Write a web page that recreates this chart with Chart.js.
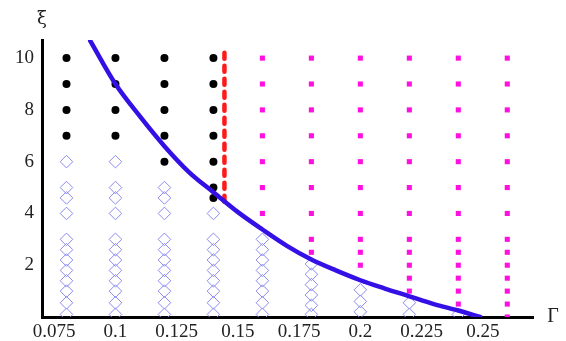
<!DOCTYPE html>
<html>
<head>
<meta charset="utf-8">
<script src="https://cdn.jsdelivr.net/npm/chart.js@4/dist/chart.umd.min.js"></script>
<style>
  html, body { margin: 0; padding: 0; background: #fff; }
  #wrap { width: 566px; height: 341px; }
</style>
</head>
<body>
<div id="wrap"><canvas id="chart"></canvas></div>
<script>

// data

const xTicks = [0.075, 0.1, 0.125, 0.15, 0.175, 0.2, 0.225, 0.25];
const yTicks = [2, 4, 6, 8, 10];

// black dots, one list per column
const blackCols = [0.08, 0.1, 0.12, 0.14];
const blackXi = [
   [7, 8, 9, 10],
   [7, 8, 9, 10],
   [6, 7, 8, 9, 10],
   [4.6, 5, 6, 7, 8, 9, 10]
];

// open diamonds
const diamondCols = [0.08, 0.1, 0.12, 0.14, 0.16, 0.18, 0.2, 0.22, 0.24];
const diamondXi = [
   [6, 5, 4.6, 4, 3, 2.6, 2.2, 1.8, 1.4, 1, 0.55, 0.1],
   [6, 5, 4.6, 4, 3, 2.6, 2.2, 1.8, 1.4, 1, 0.55, 0.1],
   [5, 4.6, 4, 3, 2.6, 2.2, 1.8, 1.4, 1, 0.55, 0.1],
   [4, 3, 2.6, 2.2, 1.8, 1.4, 1, 0.55, 0.1],
   [3, 2.6, 2.2, 1.8, 1.4, 1, 0.55, 0.1],
   [2.05, 1.65, 1.25, 0.85, 0.45, 0.1],
   [1.05, 0.6, 0.2],
   [0.55, 0.1],
   [0.1]
];

// magenta squares
const squareCols = [0.16, 0.18, 0.2, 0.22, 0.24, 0.26];
const squareXi = [
   [10, 9, 8, 7, 6, 5, 4],
   [10, 9, 8, 7, 6, 5, 4, 3, 2.5],
   [10, 9, 8, 7, 6, 5, 4, 3, 2.5, 2],
   [10, 9, 8, 7, 6, 5, 4, 3, 2.5, 2, 1.5, 1],
   [10, 9, 8, 7, 6, 5, 4, 3, 2.5, 2, 1.5, 1, 0.5],
   [10, 9, 8, 7, 6, 5, 4, 3, 2.5, 2, 1.5, 1, 0.5, 0]
];

// red dashed boundary
const redG = [0.1445, 0.1445];
const redXi = [4.45, 10.4];

// blue curve
const curveG  = [0.0897, 0.1, 0.11, 0.12, 0.13, 0.14, 0.15, 0.16, 0.17, 0.18, 0.19, 0.2, 0.21, 0.22, 0.23, 0.24, 0.249];
const curveXi = [10.67, 9.0, 7.75, 6.6, 5.6, 4.82, 4.05, 3.38, 2.75, 2.22, 1.8, 1.42, 1.1, 0.8, 0.5, 0.25, 0];


function columns(cols, vals) {
   const pts = [];
   cols.forEach((g, i) => {
      vals[i].forEach(v => pts.push({x: g, y: v}));
   });
   return pts;
}

const serif = "'Liberation Serif', 'Times New Roman', serif";

// axis letters at the ends of the axes
const axisLetters = {
   id: 'axisLetters',
   afterDraw(chart) {
      const ctx = chart.ctx;
      const a = chart.chartArea;
      ctx.save();
      ctx.fillStyle = '#222';
      ctx.textAlign = 'center';
      ctx.textBaseline = 'middle';
      ctx.font = '18px "DejaVu Serif", serif';
      ctx.fillText('ξ', a.left, 19);
      ctx.font = '20px ' + serif;
      ctx.fillText('Γ', a.right + 20, a.bottom);
      ctx.restore();
   }
};

const chart = document.querySelector('#chart').getContext('2d');

new Chart(chart, {
   type: 'scatter',
   data: {
      datasets: [
         {
            label: 'curve',
            data: curveG.map((g, i) => ({x: g, y: curveXi[i]})),
            showLine: true,
            borderColor: '#3510e6',
            borderWidth: 4.5,
            pointRadius: 0,
            cubicInterpolationMode: 'monotone',
            borderCapStyle: 'round'
         },
         {
            label: 'red',
            data: redG.map((g, i) => ({x: g, y: redXi[i]})),
            showLine: true,
            borderColor: '#ff1a1a',
            borderWidth: 4.5,
            borderDash: [6, 7],
            borderCapStyle: 'round',
            pointRadius: 0
         },
         {
            label: 'black',
            data: columns(blackCols, blackXi),
            pointStyle: 'circle',
            pointRadius: 4,
            backgroundColor: '#000',
            borderColor: '#000',
            borderWidth: 0
         },
         {
            label: 'squares',
            data: columns(squareCols, squareXi),
            pointStyle: 'rect',
            pointRadius: 3.6,
            backgroundColor: '#ff10e0',
            borderColor: '#ff10e0',
            borderWidth: 0
         },
         {
            label: 'diamonds',
            data: columns(diamondCols, diamondXi),
            pointStyle: 'rectRot',
            pointRadius: 6.3,
            backgroundColor: 'rgba(0,0,0,0)',
            borderColor: '#8a8af0',
            borderWidth: 1
         }
      ]
   },
   options: {
      responsive: true,
      maintainAspectRatio: false,
      animation: false,
      layout: { padding: { top: 40, right: 33, left: 0, bottom: 0 } },
      plugins: {
         legend: { display: false },
         tooltip: { enabled: false }
      },
      scales: {
         x: {
            type: 'linear',
            min: 0.07,
            max: 0.2705,
            grid: { display: false, drawTicks: false },
            border: { color: '#000', width: 3 },
            afterBuildTicks: s => { s.ticks = xTicks.map(v => ({value: v})); },
            afterFit: s => { s.height = 24; },
            ticks: {
               color: '#222',
               padding: 4,
               maxRotation: 0,
               autoSkip: false,
               font: { family: serif, size: 19 },
               callback: v => String(v)
            }
         },
         y: {
            min: 0,
            max: 10.7,
            grid: { display: false, drawTicks: false },
            border: { color: '#000', width: 3 },
            afterBuildTicks: s => { s.ticks = yTicks.map(v => ({value: v})); },
            afterFit: s => { s.width = 42; },
            ticks: {
               color: '#222',
               padding: 8,
               font: { family: serif, size: 19 },
               callback: v => String(v)
            }
         }
      }
   },
   plugins: [axisLetters]
});
</script>
</body>
</html>
